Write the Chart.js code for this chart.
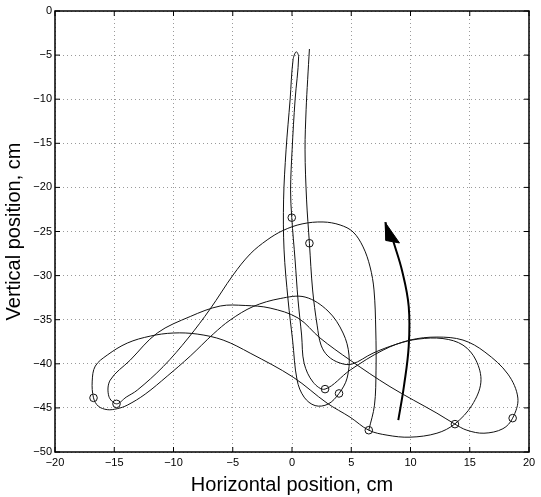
<!DOCTYPE html>
<html>
<head>
<meta charset="utf-8">
<script src="https://cdn.jsdelivr.net/npm/chart.js@4.4.0/dist/chart.umd.min.js"></script>
<style>
  html, body { margin: 0; padding: 0; background: #fff; }
  #wrap { width: 541px; height: 497px; }
</style>
</head>
<body>
<div id="wrap"><canvas id="trajChart"></canvas></div>
<script>
// Hand path (cm), in drawing order
var pathX = [1.47, 1.32, 1.19, 1.10, 1.23, 1.47, 1.74, 2.12, 2.45, 3.04, 4.06, 5.07,
  6.84, 8.86, 10.63, 12.74, 14.43, 15.52, 15.94, 15.19, 13.75,
  12.23, 9.96, 8.02, 6.48,
  4.90, 2.96, 0.09, -3.53, -5.81, -8.00, -10.03, -11.96, -13.90, -15.59, -16.60, -16.86, -16.75,
  -16.35, -15.59, -14.75, -13.90,
  -12.39, -10.53, -8.59, -6.65, -5.22, -3.28, -1.00, 1.10, 3.04, 4.31, 4.81, 4.65, 3.97,
  3.04, 1.95, 1.02, 0.43, 0.05, -0.33, -0.67, -0.71, -0.50, -0.16, 0.09, 0.35,
  0.56, 0.26, 0.01, -0.12, -0.02, 0.26, 0.51, 0.81, 1.02, 1.78, 2.79,
  4.90, 7.68, 9.96, 12.23, 14.43, 16.28, 18.22, 19.06, 18.62,
  17.80, 16.20, 14.76, 13.75,
  12.23, 8.27, 4.90, 2.37, 0.51, -1.85, -3.95, -6.06, -8.59, -11.37, -13.65, -15.34, -15.46, -14.81,
  -13.99, -13.06, -10.87, -8.76, -6.91, -4.97, -3.53, -2.10, -0.75, 0.85, 2.62, 4.06, 5.15,
  6.00, 6.59, 6.92, 7.07, 7.09, 6.96, 6.48];
var pathY = [-4.31, -7.80, -11.20, -15.74, -21.42, -26.33, -31.63, -35.61, -37.88, -39.13, -39.92, -40.03,
  -38.79, -37.76, -37.20, -37.14, -37.88, -39.58, -42.08, -44.69, -46.81,
  -47.87, -48.32, -48.09, -47.53,
  -46.05, -44.46, -41.51, -38.79, -37.31, -36.63, -36.51, -36.86, -37.65, -39.01, -40.26, -41.96, -43.86,
  -44.80, -45.20, -45.09, -44.69,
  -43.44, -41.40, -39.13, -36.63, -35.04, -33.51, -32.60, -32.43, -34.02, -36.51, -39.01, -41.62, -43.36,
  -44.57, -44.74, -43.78, -41.85, -37.31, -32.77, -27.09, -21.42, -15.74, -10.07, -5.53, -4.62,
  -5.19, -10.07, -15.74, -20.28, -23.43, -28.23, -32.77, -36.74, -39.92, -42.08, -42.87,
  -40.72, -38.45, -37.31, -36.97, -37.31, -38.67, -41.17, -43.89, -46.16,
  -47.36, -47.87, -47.53, -46.84,
  -45.60, -42.59, -39.58, -37.08, -34.81, -33.68, -33.39, -33.45, -34.64, -36.51, -39.58, -41.85, -43.67, -44.54,
  -43.78, -42.99, -40.32, -37.08, -33.79, -29.93, -27.55, -25.96, -24.88, -24.14, -23.92, -24.26, -25.05,
  -26.75, -29.02, -31.63, -36.17, -40.72, -44.69, -47.53];

// Marked points (open circles)
var markX = [-0.02, 1.47, -16.75, -14.81, 2.79, 3.97, 6.48, 13.75, 18.62];
var markY = [-23.43, -26.33, -43.86, -44.54, -42.87, -43.36, -47.53, -46.84, -46.16];

// Direction arrow: shaft and head
var arrowX = [8.97, 9.45, 9.85, 9.85, 9.30, 8.55];
var arrowY = [-46.39, -42.50, -38.00, -33.50, -29.50, -26.10];
var headX = [7.85, 7.93, 9.07, 7.85];
var headY = [-23.95, -26.02, -26.30, -23.95];

var xMin = -20, xMax = 20, yMin = -50, yMax = 0, tickStep = 5;

function toPoints(xs, ys) {
  return xs.map(function (v, i) { return {x: v, y: ys[i]}; });
}
function minusLabel(v) {
  return v < 0 ? '\u2212' + Math.abs(v) : String(v);
}

// MATLAB style box with inward ticks on all four sides
var boxTicks = {
  id: 'boxTicks',
  afterDatasetsDraw: function (chart) {
    var ctx = chart.ctx, a = chart.chartArea;
    var xs = chart.scales.x, ys = chart.scales.y;
    ctx.save();
    ctx.strokeStyle = '#000';
    ctx.lineWidth = 1;
    ctx.beginPath();
    xs.ticks.forEach(function (t) {
      var px = xs.getPixelForValue(t.value);
      ctx.moveTo(px, a.bottom); ctx.lineTo(px, a.bottom - 5);
      ctx.moveTo(px, a.top); ctx.lineTo(px, a.top + 5);
    });
    ys.ticks.forEach(function (t) {
      var py = ys.getPixelForValue(t.value);
      ctx.moveTo(a.left, py); ctx.lineTo(a.left + 5, py);
      ctx.moveTo(a.right, py); ctx.lineTo(a.right - 5, py);
    });
    ctx.stroke();
    ctx.lineWidth = 1.5;
    ctx.strokeRect(a.left, a.top, a.right - a.left, a.bottom - a.top);
    ctx.restore();
  }
};

var font = "'Liberation Sans', Arial, Helvetica, sans-serif";

new Chart(document.getElementById('trajChart'), {
  type: 'scatter',
  data: {
    datasets: [
      {
        data: toPoints(pathX, pathY),
        showLine: true,
        borderColor: '#111',
        borderWidth: 1,
        pointRadius: 0,
        tension: 0.35,
        fill: false
      },
      {
        data: toPoints(markX, markY),
        showLine: false,
        pointStyle: 'circle',
        pointRadius: 3.8,
        borderColor: '#111',
        borderWidth: 1,
        backgroundColor: 'rgba(0,0,0,0)'
      },
      {
        data: toPoints(arrowX, arrowY),
        showLine: true,
        borderColor: '#000',
        borderWidth: 2,
        pointRadius: 0,
        tension: 0.4,
        fill: false
      },
      {
        data: toPoints(headX, headY),
        showLine: true,
        borderColor: '#000',
        backgroundColor: '#000',
        borderWidth: 1,
        pointRadius: 0,
        tension: 0,
        fill: 'shape'
      }
    ]
  },
  options: {
    responsive: true,
    maintainAspectRatio: false,
    animation: false,
    layout: { padding: { top: 11, right: 12, left: 0, bottom: 0 } },
    plugins: { legend: { display: false }, tooltip: { enabled: false } },
    scales: {
      x: {
        type: 'linear', min: xMin, max: xMax,
        afterFit: function (s) { s.height = 45; },
        ticks: { stepSize: tickStep, padding: 4, color: '#000', font: { family: font, size: 11 }, callback: minusLabel, maxRotation: 0 },
        grid: { color: '#9a9a9a', lineWidth: 1, drawTicks: false },
        border: { display: false, dash: [1, 3] },
        title: { display: true, text: 'Horizontal position, cm', color: '#000', font: { family: font, size: 20 }, padding: { top: 0, bottom: 0 } }
      },
      y: {
        type: 'linear', min: yMin, max: yMax,
        afterFit: function (s) { s.width = 55; },
        ticks: { stepSize: tickStep, padding: 3, color: '#000', font: { family: font, size: 11 }, callback: minusLabel },
        grid: { color: '#9a9a9a', lineWidth: 1, drawTicks: false },
        border: { display: false, dash: [1, 3] },
        title: { display: true, text: 'Vertical position, cm', color: '#000', font: { family: font, size: 20 }, padding: { top: 2, bottom: 0 } }
      }
    }
  },
  plugins: [boxTicks]
});
</script>
</body>
</html>
